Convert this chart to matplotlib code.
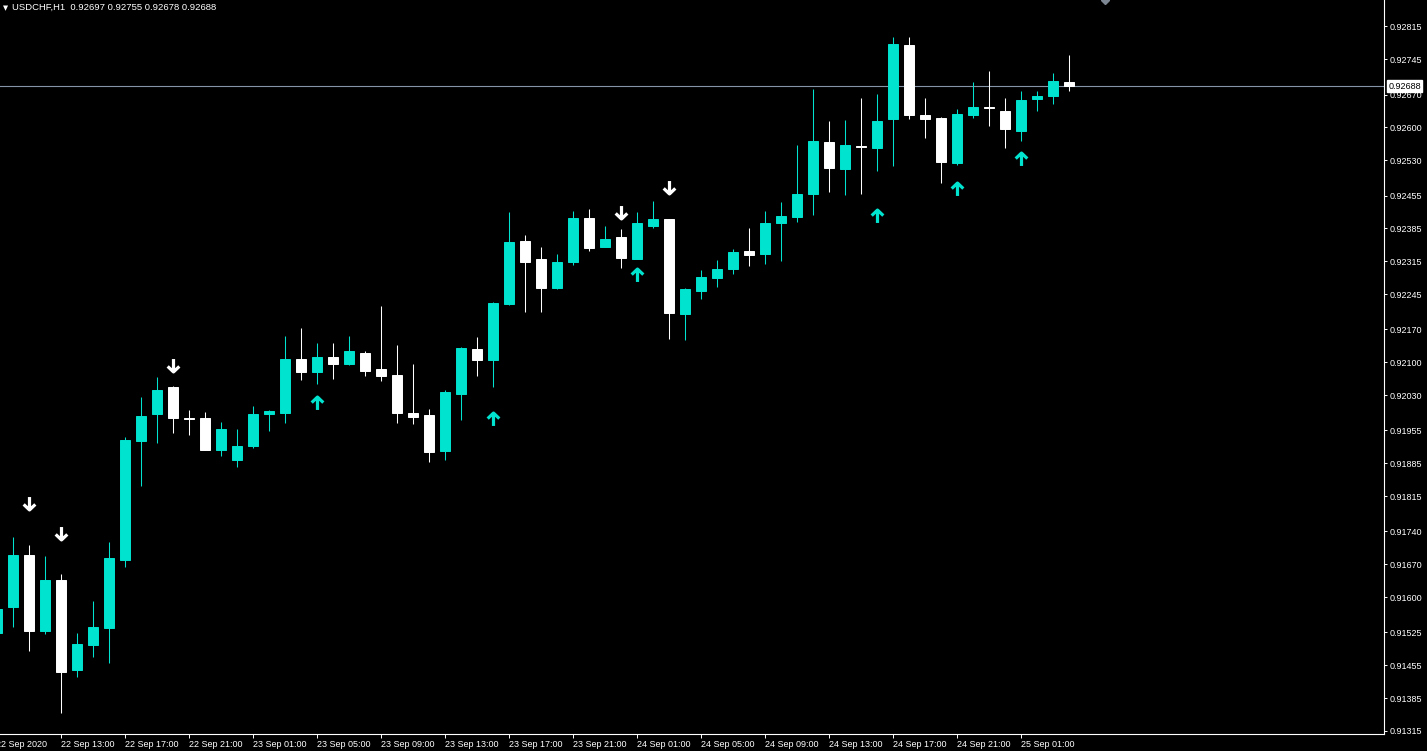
import numpy as np
import pandas as pd
import matplotlib
matplotlib.use("Agg")
import matplotlib.pyplot as plt
from matplotlib.path import Path
from matplotlib.transforms import blended_transform_factory

# USDCHF H1, 22 Sep 2020 09:00 -> 25 Sep 2020 04:00
symbol = "USDCHF,H1"
start_time = "2020-09-22 09:00"

opens = [0.91524, 0.91578, 0.91690, 0.91528, 0.91637, 0.91444, 0.91499, 0.91535, 0.91679, 0.91933,
         0.91989, 0.92047, 0.91981, 0.91982, 0.91914, 0.91893, 0.91922, 0.91989, 0.91992, 0.92107,
         0.92080, 0.92111, 0.92096, 0.92120, 0.92086, 0.92073, 0.91992, 0.91988, 0.91911, 0.92033,
         0.92128, 0.92105, 0.92224, 0.92358, 0.92320, 0.92258, 0.92314, 0.92407, 0.92346, 0.92367,
         0.92320, 0.92390, 0.92405, 0.92203, 0.92252, 0.92280, 0.92299, 0.92336, 0.92331, 0.92397,
         0.92410, 0.92459, 0.92569, 0.92512, 0.92560, 0.92557, 0.92617, 0.92776, 0.92627, 0.92620,
         0.92525, 0.92627, 0.92643, 0.92635, 0.92593, 0.92661, 0.92666, 0.92697]
highs = [0.91583, 0.91728, 0.91711, 0.91688, 0.91649, 0.91523, 0.91592, 0.91718, 0.91942, 0.92026,
         0.92069, 0.92050, 0.91999, 0.91994, 0.91973, 0.91957, 0.92007, 0.91999, 0.92156, 0.92173,
         0.92141, 0.92141, 0.92156, 0.92124, 0.92220, 0.92137, 0.92096, 0.92001, 0.92042, 0.92132,
         0.92154, 0.92229, 0.92420, 0.92371, 0.92346, 0.92331, 0.92422, 0.92426, 0.92390, 0.92384,
         0.92420, 0.92444, 0.92406, 0.92258, 0.92297, 0.92318, 0.92341, 0.92386, 0.92422, 0.92441,
         0.92563, 0.92682, 0.92614, 0.92616, 0.92663, 0.92671, 0.92793, 0.92793, 0.92663, 0.92622,
         0.92639, 0.92697, 0.92720, 0.92663, 0.92678, 0.92678, 0.92716, 0.92755]
lows = [0.91517, 0.91537, 0.91485, 0.91522, 0.91353, 0.91431, 0.91473, 0.91459, 0.91665, 0.91837,
        0.91929, 0.91950, 0.91945, 0.91913, 0.91901, 0.91877, 0.91918, 0.91954, 0.91971, 0.92062,
        0.92054, 0.92065, 0.92095, 0.92071, 0.92061, 0.91971, 0.91969, 0.91888, 0.91891, 0.91978,
        0.92071, 0.92048, 0.92222, 0.92208, 0.92208, 0.92257, 0.92308, 0.92338, 0.92345, 0.92301,
        0.92319, 0.92386, 0.92150, 0.92148, 0.92235, 0.92260, 0.92288, 0.92306, 0.92310, 0.92316,
        0.92399, 0.92414, 0.92463, 0.92457, 0.92459, 0.92508, 0.92519, 0.92619, 0.92578, 0.92482,
        0.92521, 0.92621, 0.92604, 0.92557, 0.92572, 0.92634, 0.92649, 0.92678]
closes = [0.91575, 0.91690, 0.91528, 0.91637, 0.91441, 0.91500, 0.91537, 0.91683, 0.91935, 0.91986,
          0.92041, 0.91982, 0.91980, 0.91914, 0.91958, 0.91922, 0.91990, 0.91997, 0.92107, 0.92080,
          0.92111, 0.92096, 0.92124, 0.92082, 0.92071, 0.91992, 0.91984, 0.91909, 0.92037, 0.92131,
          0.92105, 0.92226, 0.92356, 0.92314, 0.92259, 0.92314, 0.92407, 0.92343, 0.92363, 0.92322,
          0.92397, 0.92405, 0.92205, 0.92256, 0.92282, 0.92299, 0.92335, 0.92329, 0.92397, 0.92412,
          0.92458, 0.92571, 0.92514, 0.92563, 0.92559, 0.92614, 0.92778, 0.92627, 0.92619, 0.92527,
          0.92629, 0.92644, 0.92642, 0.92597, 0.92659, 0.92667, 0.92699, 0.92688]

# indicator arrows (bar index, price)
down_bars = [2, 4, 11, 39, 42]
down_prices = [0.91801, 0.91736, 0.92094, 0.92421, 0.92473]
up_bars = [20, 31, 40, 55, 60, 64]
up_prices = [0.92014, 0.91979, 0.92286, 0.92412, 0.92469, 0.92532]

price_labels = [0.92815, 0.92745, 0.92670, 0.92600, 0.92530, 0.92455, 0.92385, 0.92315, 0.92245,
                0.92170, 0.92100, 0.92030, 0.91955, 0.91885, 0.91815, 0.91740, 0.91670, 0.91600,
                0.91525, 0.91455, 0.91385, 0.91315]

CYAN = "#00E3CF"
FONT = "Liberation Sans"

o = np.array(opens)
h = np.array(highs)
l = np.array(lows)
c = np.array(closes)
x = np.arange(len(o))
times = pd.date_range(start_time, periods=len(o), freq="h")
cols = np.where(c > o, CYAN, "white")

W, H = 1427, 751
fig = plt.figure(figsize=(W / 100, H / 100), dpi=100, facecolor="black")
ax = fig.add_axes([0, 17 / H, 1384 / W, 734 / H])
ax.set_facecolor("black")

# candles
ax.vlines(x, l, h, colors=cols, lw=0.75, zorder=2)
ax.bar(x, np.abs(c - o), bottom=np.minimum(o, c), width=0.62, color=cols,
       edgecolor=cols, lw=0.7, zorder=3)

# arrows
down_path = Path([(0, 0.5), (0, -0.5), (-0.45, -0.07), (0, -0.5), (0.45, -0.07)],
                 [Path.MOVETO, Path.LINETO, Path.MOVETO, Path.LINETO, Path.LINETO])
up_path = Path([(0, -0.5), (0, 0.5), (-0.45, 0.07), (0, 0.5), (0.45, 0.07)],
               [Path.MOVETO, Path.LINETO, Path.MOVETO, Path.LINETO, Path.LINETO])
ax.plot(down_bars, down_prices, ls="none", marker=down_path, ms=9.3, mew=2.3,
        mfc="none", mec="white", zorder=4)
ax.plot(up_bars, up_prices, ls="none", marker=up_path, ms=9.3, mew=2.3,
        mfc="none", mec=CYAN, zorder=4)

# current price line + label
last = closes[-1]
ax.axhline(last, color="#8594A6", lw=0.8, zorder=1)
trans = blended_transform_factory(ax.transAxes, ax.transData)
ax.annotate(f"{last:.5f}", xy=(1, last), xycoords=trans, xytext=(3, 0),
            textcoords="offset points", ha="left", va="center", fontsize=6.5,
            family=FONT, color="black", annotation_clip=False, zorder=10,
            bbox=dict(boxstyle="square,pad=0.15", fc="white", ec="white"))

# chart shift marker
ax.plot([0.7984], [1.0], marker="D", ms=4, color="#7D8793", transform=ax.transAxes,
        clip_on=True, zorder=5)

# axes
px_per_bar = 16
x0 = 2.7 / px_per_bar
ax.set_xlim(x0, x0 + 1384 / px_per_bar)
ax.set_ylim(0.913086, 0.928714)

ax.yaxis.tick_right()
ax.set_yticks(price_labels)
ax.set_yticklabels([f"{p:.5f}" for p in price_labels], family=FONT)
ax.tick_params(axis="y", colors="white", labelsize=6.5, length=2.5, width=0.7, pad=1.5)

xt = list(range(4, len(o), 4))
ax.set_xticks(xt)
ax.set_xticklabels([times[i].strftime("%d %b %H:%M") for i in xt], family=FONT, ha="left")
ax.tick_params(axis="x", colors="white", labelsize=6.5, length=3, width=0.7, pad=1.5)
ax.annotate(times[0].strftime("%d %b %Y"), xy=(0, 0), xycoords=ax.get_xaxis_transform(),
            xytext=(-0.8, -4.5), textcoords="offset points", ha="left", va="top",
            fontsize=6.5, family=FONT, color="white", annotation_clip=False)

for side in ["top", "left"]:
    ax.spines[side].set_visible(False)
for side in ["right", "bottom"]:
    ax.spines[side].set_color("white")
    ax.spines[side].set_linewidth(0.8)

# header
fig.text(3 / W, 1 - 8 / H, "\u25BC", fontsize=4.8, color="white", va="center",
         family="DejaVu Sans")
fig.text(12 / W, 1 - 7.5 / H,
         f"{symbol}  {opens[-1]:.5f} {highs[-1]:.5f} {lows[-1]:.5f} {closes[-1]:.5f}",
         fontsize=6.8, color="white", va="center", family=FONT)

fig.savefig("out.png", dpi=100, facecolor="black")
